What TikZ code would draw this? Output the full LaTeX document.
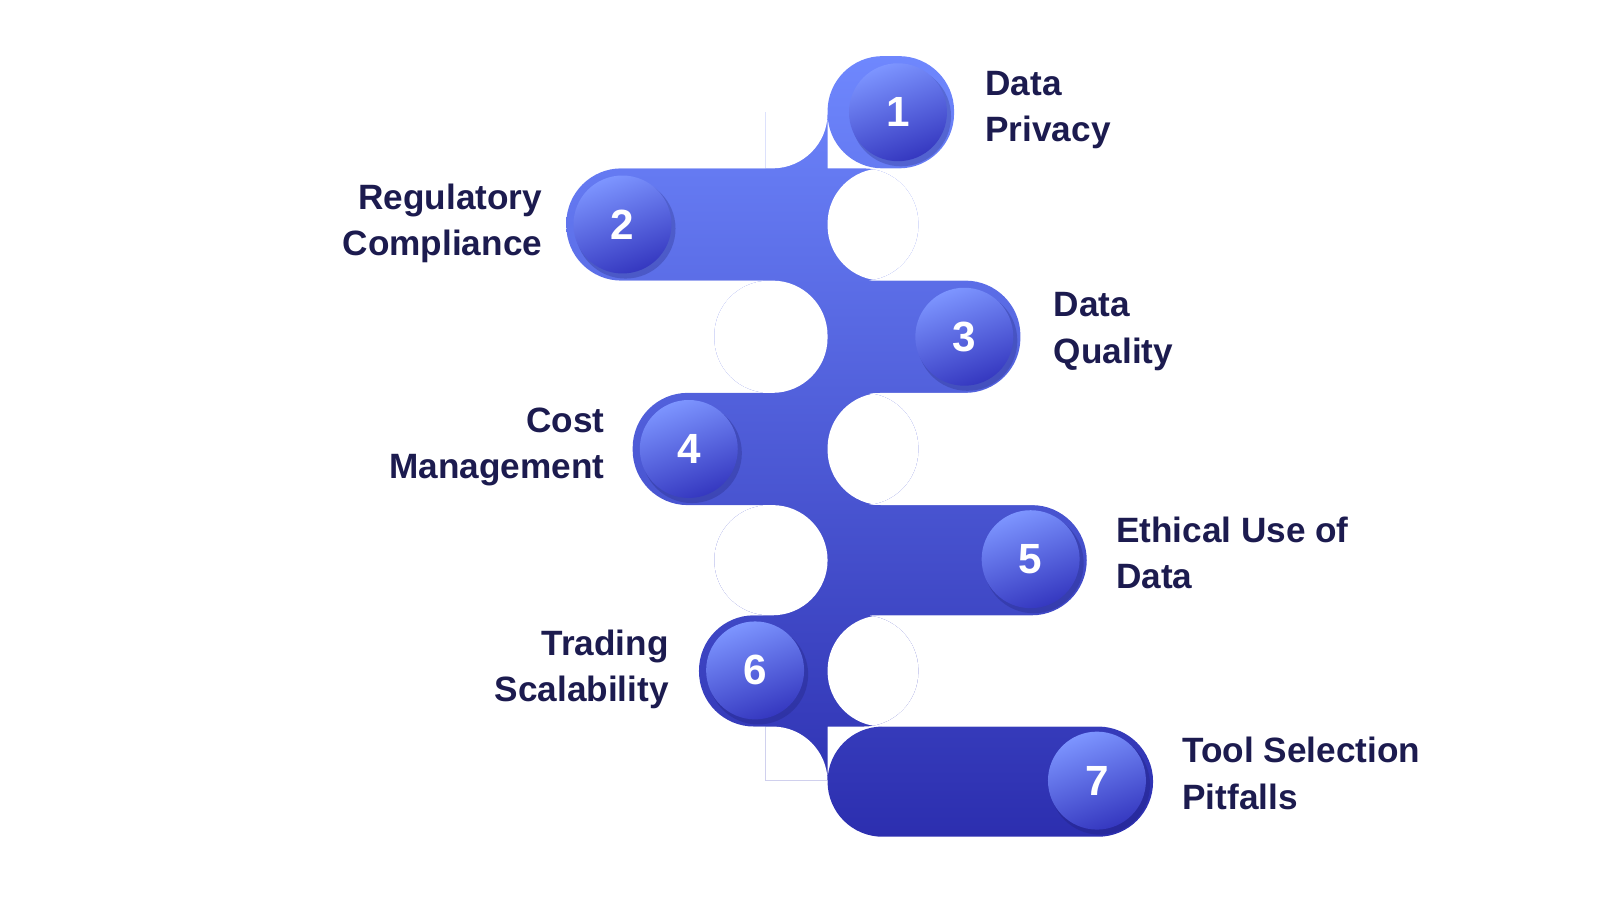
\documentclass[tikz,border=0pt]{standalone}
\usepackage{fontspec}
\setmainfont{Liberation Sans}
\begin{document}
\begin{tikzpicture}[x=0.0102cm,y=-0.0102cm,
  lab/.style={font=\bfseries\fontsize{10}{13.2}\selectfont, text=txt, align=left, inner sep=0},
  labl/.style={lab, align=right},
  num/.style={font=\bfseries\fontsize{12}{14}\selectfont, text=white},
  ball/.style={top color=ballT, bottom color=ballB, shading angle=20}]
\definecolor{txt}{HTML}{1C1B4F}
\definecolor{bandT}{HTML}{7089FF}
\definecolor{bandB}{HTML}{2B2DAE}
\definecolor{ballT}{HTML}{7D95FF}
\definecolor{ballB}{HTML}{3538C0}
\definecolor{halo}{HTML}{ECEBF7}
\useasboundingbox (0,0) rectangle (1568,882);
% band
\begin{scope}
\clip[rounded corners=0.55cm]
  (811,55) rectangle (935,165) [sharp corners] (750,110) rectangle (811,166)
  [rounded corners=0.55cm]
  (555,165) rectangle (900,275)
  (700,275) rectangle (1000,385)
  (620,385) rectangle (900,495)
  (700,495) rectangle (1065,603)
  (685,603) rectangle (900,712)
  (811,712) rectangle (1130,820) [sharp corners] (750,711) rectangle (811,765);
\shade[top color=bandT, bottom color=bandB] (400,40) rectangle (1300,830);
\fill[white, rounded corners=0.55cm]
  (400,55) rectangle (811,165)
  (811,165) rectangle (1300,275)
  (400,275) rectangle (811,385)
  (811,385) rectangle (1300,495)
  (400,495) rectangle (811,603)
  (811,603) rectangle (1300,712)
  (400,712) rectangle (811,820);
\end{scope}
% balls
\foreach \n/\x/\y in {1/880/110,2/610/220,3/945/330,4/675/440,5/1010/548,6/740/657,7/1075/765}{
  \fill[bandB!60!black, opacity=0.25] (\x+3,\y+4) circle (49);
  \shade[ball] (\x,\y) circle (48);
  \node[num] (n\n) at (\x,\y) {\n};
}
% labels
\node[lab, anchor=west] (t1) at (965,108) {Data\\Privacy};
\node[labl, anchor=east] (t2) at (532,219) {Regulatory\\Compliance};
\node[lab, anchor=west] (t3) at (1032,325) {Data\\Quality};
\node[labl, anchor=east] (t4) at (593,438) {Cost\\Management};
\node[lab, anchor=west] (t5) at (1093,542) {Ethical Use of\\Data};
\node[labl, anchor=east] (t6) at (656,656) {Trading\\Scalability};
\node[lab, anchor=west] (t7) at (1158,758) {Tool Selection\\Pitfalls};
\end{tikzpicture}
\end{document}
